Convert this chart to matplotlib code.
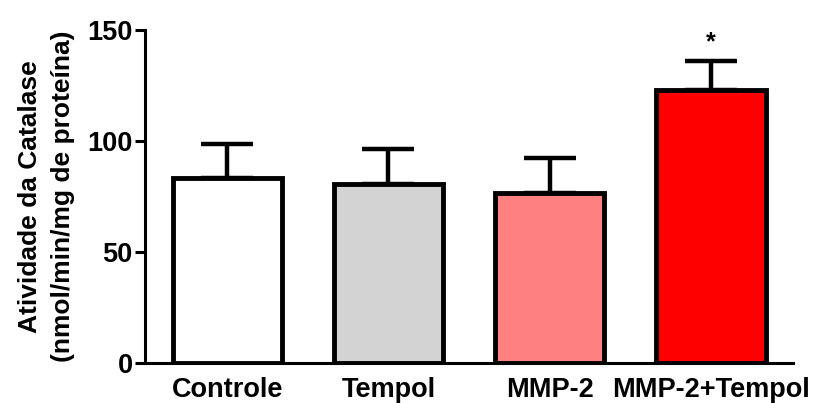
import numpy as np
import matplotlib
matplotlib.use('Agg')
import matplotlib.pyplot as plt

# values
groups = ['Controle', 'Tempol', 'MMP-2', 'MMP-2+Tempol']
means = [83.5, 80.5, 76.5, 123.0]
sem = [15.0, 16.0, 16.0, 13.0]
colors = ['#ffffff', '#d3d3d3', '#ff8080', '#ff0000']
signif = ['', '', '', '*']

plt.rcParams['font.family'] = ['Liberation Sans', 'DejaVu Sans']
plt.rcParams['font.weight'] = 'bold'

fig = plt.figure(figsize=(8.2, 4.03), dpi=100)
ax = fig.add_axes([0.177, 0.0993, 0.790, 0.8263])

x = np.arange(len(groups))

# error bars (upper only) drawn behind the bars
ax.errorbar(x, means, yerr=[np.zeros(len(sem)), sem], fmt='none', ecolor='black',
            elinewidth=3.2, capsize=18.5, capthick=3.2, zorder=1)
ax.bar(x, means, width=0.68, color=colors, edgecolor='black', linewidth=3.5, zorder=2)

for xi, m, s, lab in zip(x, means, sem, signif):
    if lab:
        ax.text(xi, m + s + 3, lab, ha='center', va='bottom', fontsize=18, fontweight='bold')

ax.set_xlim(-0.51, 3.51)
ax.set_ylim(0, 150)
ax.set_yticks([0, 50, 100, 150])
ax.set_xticks(x)
ax.set_xticklabels(groups, fontsize=19.5, fontweight='bold')
ax.tick_params(axis='x', length=0, pad=10)
ax.tick_params(axis='y', length=7, width=2.2, labelsize=19.5, pad=2)
for lbl in ax.get_yticklabels():
    lbl.set_fontweight('bold')

for side in ['top', 'right']:
    ax.spines[side].set_visible(False)
for side in ['left', 'bottom']:
    ax.spines[side].set_linewidth(2.2)

ax.set_ylabel('Atividade da Catalase\n(nmol/min/mg de proteína)', fontsize=19,
              fontweight='bold', labelpad=9, linespacing=1.45)

fig.savefig('out.png', dpi=100)
